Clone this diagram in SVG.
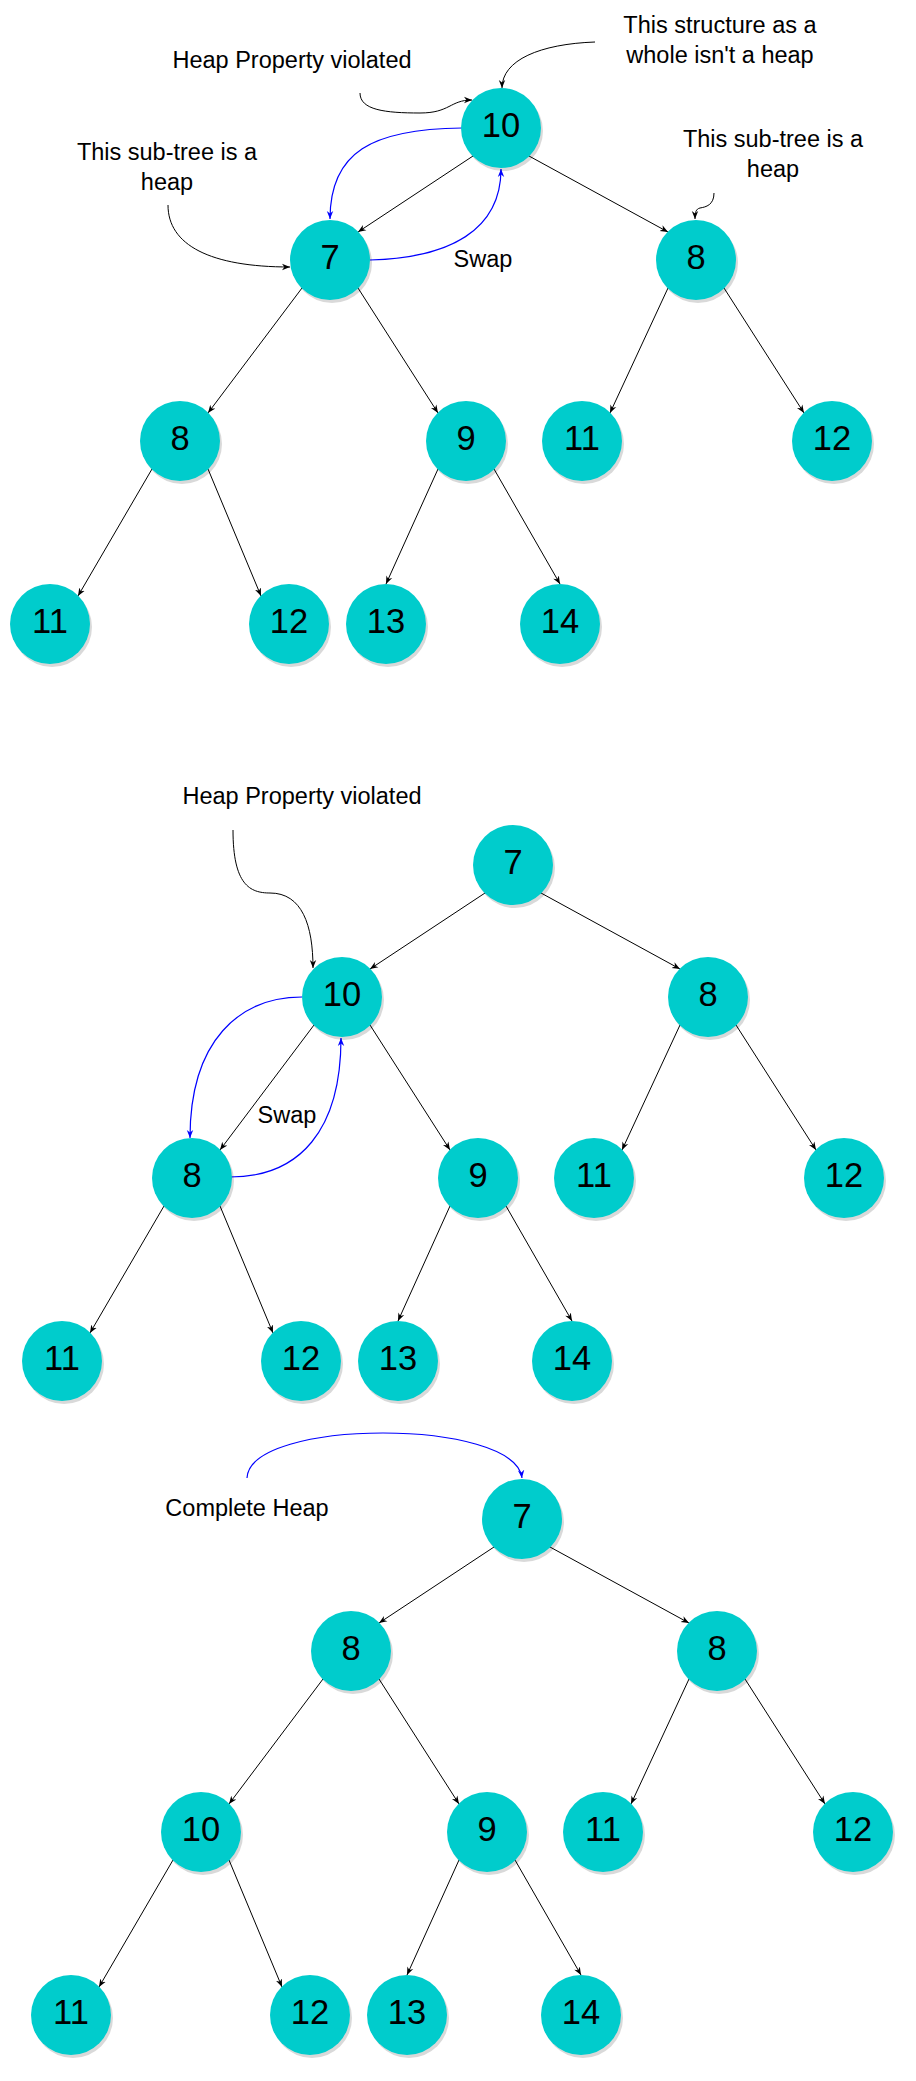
<svg xmlns="http://www.w3.org/2000/svg" width="916" height="2081" viewBox="0 0 916 2081">
<style>
.n circle.s{fill:#000;opacity:0.15}
.n circle.c{fill:#00CCCC}
.n text{font-family:"Liberation Sans",Arial,sans-serif;font-size:34.5px;fill:#000;text-anchor:middle}
.lbl{font-family:"Liberation Sans",Arial,sans-serif;font-size:23.5px;fill:#000;text-anchor:middle}
.e{stroke:#000;stroke-width:1;fill:none;marker-end:url(#ab)}
.b{stroke:#0000FF;stroke-width:1.2;fill:none;marker-end:url(#au)}
</style>
<defs>
<marker id="ab" viewBox="0 0 10 10" refX="10" refY="5" markerWidth="8" markerHeight="8" markerUnits="userSpaceOnUse" orient="auto"><path d="M0,1 L10,5 L0,9 L3,5 z" fill="#000"/></marker>
<marker id="au" viewBox="0 0 10 10" refX="10" refY="5" markerWidth="8" markerHeight="8" markerUnits="userSpaceOnUse" orient="auto"><path d="M0,1 L10,5 L0,9 L3,5 z" fill="#0000FF"/></marker>
</defs>
<rect width="916" height="2081" fill="#fff"/>

<g id="connectors">
<!-- tree 1 -->
<line class="e" x1="473" y1="156" x2="358" y2="232"/>
<line class="e" x1="529" y1="156" x2="668" y2="232"/>
<line class="e" x1="302" y1="288" x2="208" y2="413"/>
<line class="e" x1="358" y1="288" x2="438" y2="413"/>
<line class="e" x1="668" y1="288" x2="610" y2="413"/>
<line class="e" x1="724" y1="288" x2="804" y2="413"/>
<line class="e" x1="152" y1="469" x2="78" y2="596"/>
<line class="e" x1="208" y1="469" x2="261" y2="596"/>
<line class="e" x1="438" y1="469" x2="386" y2="584"/>
<line class="e" x1="494" y1="469" x2="560" y2="584"/>
<path class="e" d="M360,93 C360,110 385,113 420,113 C450,113 450,100 472,100"/>
<path class="e" d="M595,42 C540,44 502,60 502,88"/>
<path class="e" d="M168,205 C168,245 210,267 290,267"/>
<path class="e" d="M714,193 C714,205 706,207 700,208 C696,209 695,212 695,219"/>
<path class="b" d="M462,128 C372,129 330,152 330,219"/>
<path class="b" d="M370,260 C450,258 501,230 501,169"/>
<!-- tree 2 -->
<line class="e" x1="485" y1="893" x2="370" y2="969"/>
<line class="e" x1="541" y1="893" x2="680" y2="969"/>
<line class="e" x1="314" y1="1025" x2="220" y2="1150"/>
<line class="e" x1="370" y1="1025" x2="450" y2="1150"/>
<line class="e" x1="680" y1="1025" x2="622" y2="1150"/>
<line class="e" x1="736" y1="1025" x2="816" y2="1150"/>
<line class="e" x1="164" y1="1206" x2="90" y2="1333"/>
<line class="e" x1="220" y1="1206" x2="273" y2="1333"/>
<line class="e" x1="450" y1="1206" x2="398" y2="1321"/>
<line class="e" x1="506" y1="1206" x2="572" y2="1321"/>
<path class="e" d="M233,830 C233,885 250,893 270,893 C302,893 313,925 313,968"/>
<path class="b" d="M302,997 C240,997 190,1040 190,1138"/>
<path class="b" d="M230,1177 C300,1177 341,1130 341,1038"/>
<!-- tree 3 -->
<line class="e" x1="494" y1="1547" x2="379" y2="1623"/>
<line class="e" x1="550" y1="1547" x2="689" y2="1623"/>
<line class="e" x1="323" y1="1679" x2="229" y2="1804"/>
<line class="e" x1="379" y1="1679" x2="459" y2="1804"/>
<line class="e" x1="689" y1="1679" x2="631" y2="1804"/>
<line class="e" x1="745" y1="1679" x2="825" y2="1804"/>
<line class="e" x1="173" y1="1860" x2="99" y2="1987"/>
<line class="e" x1="229" y1="1860" x2="282" y2="1987"/>
<line class="e" x1="459" y1="1860" x2="407" y2="1975"/>
<line class="e" x1="515" y1="1860" x2="581" y2="1975"/>
<path class="b" d="M247,1478 C250,1418 515,1418 522,1478"/>
</g>

<g id="labels">
<text class="lbl" x="292" y="68">Heap Property violated</text>
<text class="lbl" x="720" y="33">This structure as a</text>
<text class="lbl" x="720" y="63">whole isn't a heap</text>
<text class="lbl" x="167" y="160">This sub-tree is a</text>
<text class="lbl" x="167" y="190">heap</text>
<text class="lbl" x="773" y="147">This sub-tree is a</text>
<text class="lbl" x="773" y="177">heap</text>
<text class="lbl" x="483" y="267">Swap</text>
<text class="lbl" x="302" y="804">Heap Property violated</text>
<text class="lbl" x="287" y="1123">Swap</text>
<text class="lbl" x="247" y="1516">Complete Heap</text>
</g>

<!-- tree 1 nodes -->
<g id="t1-10" class="n"><circle class="s" cx="503" cy="131" r="40"/><circle class="c" cx="501" cy="128" r="40"/><text x="501" y="137">10</text></g>
<g id="t1-7" class="n"><circle class="s" cx="332" cy="263" r="40"/><circle class="c" cx="330" cy="260" r="40"/><text x="330" y="269">7</text></g>
<g id="t1-8r" class="n"><circle class="s" cx="698" cy="263" r="40"/><circle class="c" cx="696" cy="260" r="40"/><text x="696" y="269">8</text></g>
<g id="t1-8" class="n"><circle class="s" cx="182" cy="444" r="40"/><circle class="c" cx="180" cy="441" r="40"/><text x="180" y="450">8</text></g>
<g id="t1-9" class="n"><circle class="s" cx="468" cy="444" r="40"/><circle class="c" cx="466" cy="441" r="40"/><text x="466" y="450">9</text></g>
<g id="t1-11a" class="n"><circle class="s" cx="584" cy="444" r="40"/><circle class="c" cx="582" cy="441" r="40"/><text x="582" y="450">11</text></g>
<g id="t1-12a" class="n"><circle class="s" cx="834" cy="444" r="40"/><circle class="c" cx="832" cy="441" r="40"/><text x="832" y="450">12</text></g>
<g id="t1-11b" class="n"><circle class="s" cx="52" cy="627" r="40"/><circle class="c" cx="50" cy="624" r="40"/><text x="50" y="633">11</text></g>
<g id="t1-12b" class="n"><circle class="s" cx="291" cy="627" r="40"/><circle class="c" cx="289" cy="624" r="40"/><text x="289" y="633">12</text></g>
<g id="t1-13" class="n"><circle class="s" cx="388" cy="627" r="40"/><circle class="c" cx="386" cy="624" r="40"/><text x="386" y="633">13</text></g>
<g id="t1-14" class="n"><circle class="s" cx="562" cy="627" r="40"/><circle class="c" cx="560" cy="624" r="40"/><text x="560" y="633">14</text></g>

<!-- tree 2 nodes -->
<g id="t2-7" class="n"><circle class="s" cx="515" cy="868" r="40"/><circle class="c" cx="513" cy="865" r="40"/><text x="513" y="874">7</text></g>
<g id="t2-10" class="n"><circle class="s" cx="344" cy="1000" r="40"/><circle class="c" cx="342" cy="997" r="40"/><text x="342" y="1006">10</text></g>
<g id="t2-8r" class="n"><circle class="s" cx="710" cy="1000" r="40"/><circle class="c" cx="708" cy="997" r="40"/><text x="708" y="1006">8</text></g>
<g id="t2-8" class="n"><circle class="s" cx="194" cy="1181" r="40"/><circle class="c" cx="192" cy="1178" r="40"/><text x="192" y="1187">8</text></g>
<g id="t2-9" class="n"><circle class="s" cx="480" cy="1181" r="40"/><circle class="c" cx="478" cy="1178" r="40"/><text x="478" y="1187">9</text></g>
<g id="t2-11a" class="n"><circle class="s" cx="596" cy="1181" r="40"/><circle class="c" cx="594" cy="1178" r="40"/><text x="594" y="1187">11</text></g>
<g id="t2-12a" class="n"><circle class="s" cx="846" cy="1181" r="40"/><circle class="c" cx="844" cy="1178" r="40"/><text x="844" y="1187">12</text></g>
<g id="t2-11b" class="n"><circle class="s" cx="64" cy="1364" r="40"/><circle class="c" cx="62" cy="1361" r="40"/><text x="62" y="1370">11</text></g>
<g id="t2-12b" class="n"><circle class="s" cx="303" cy="1364" r="40"/><circle class="c" cx="301" cy="1361" r="40"/><text x="301" y="1370">12</text></g>
<g id="t2-13" class="n"><circle class="s" cx="400" cy="1364" r="40"/><circle class="c" cx="398" cy="1361" r="40"/><text x="398" y="1370">13</text></g>
<g id="t2-14" class="n"><circle class="s" cx="574" cy="1364" r="40"/><circle class="c" cx="572" cy="1361" r="40"/><text x="572" y="1370">14</text></g>

<!-- tree 3 nodes -->
<g id="t3-7" class="n"><circle class="s" cx="524" cy="1522" r="40"/><circle class="c" cx="522" cy="1519" r="40"/><text x="522" y="1528">7</text></g>
<g id="t3-8l" class="n"><circle class="s" cx="353" cy="1654" r="40"/><circle class="c" cx="351" cy="1651" r="40"/><text x="351" y="1660">8</text></g>
<g id="t3-8r" class="n"><circle class="s" cx="719" cy="1654" r="40"/><circle class="c" cx="717" cy="1651" r="40"/><text x="717" y="1660">8</text></g>
<g id="t3-10" class="n"><circle class="s" cx="203" cy="1835" r="40"/><circle class="c" cx="201" cy="1832" r="40"/><text x="201" y="1841">10</text></g>
<g id="t3-9" class="n"><circle class="s" cx="489" cy="1835" r="40"/><circle class="c" cx="487" cy="1832" r="40"/><text x="487" y="1841">9</text></g>
<g id="t3-11a" class="n"><circle class="s" cx="605" cy="1835" r="40"/><circle class="c" cx="603" cy="1832" r="40"/><text x="603" y="1841">11</text></g>
<g id="t3-12a" class="n"><circle class="s" cx="855" cy="1835" r="40"/><circle class="c" cx="853" cy="1832" r="40"/><text x="853" y="1841">12</text></g>
<g id="t3-11b" class="n"><circle class="s" cx="73" cy="2018" r="40"/><circle class="c" cx="71" cy="2015" r="40"/><text x="71" y="2024">11</text></g>
<g id="t3-12b" class="n"><circle class="s" cx="312" cy="2018" r="40"/><circle class="c" cx="310" cy="2015" r="40"/><text x="310" y="2024">12</text></g>
<g id="t3-13" class="n"><circle class="s" cx="409" cy="2018" r="40"/><circle class="c" cx="407" cy="2015" r="40"/><text x="407" y="2024">13</text></g>
<g id="t3-14" class="n"><circle class="s" cx="583" cy="2018" r="40"/><circle class="c" cx="581" cy="2015" r="40"/><text x="581" y="2024">14</text></g>
</svg>
